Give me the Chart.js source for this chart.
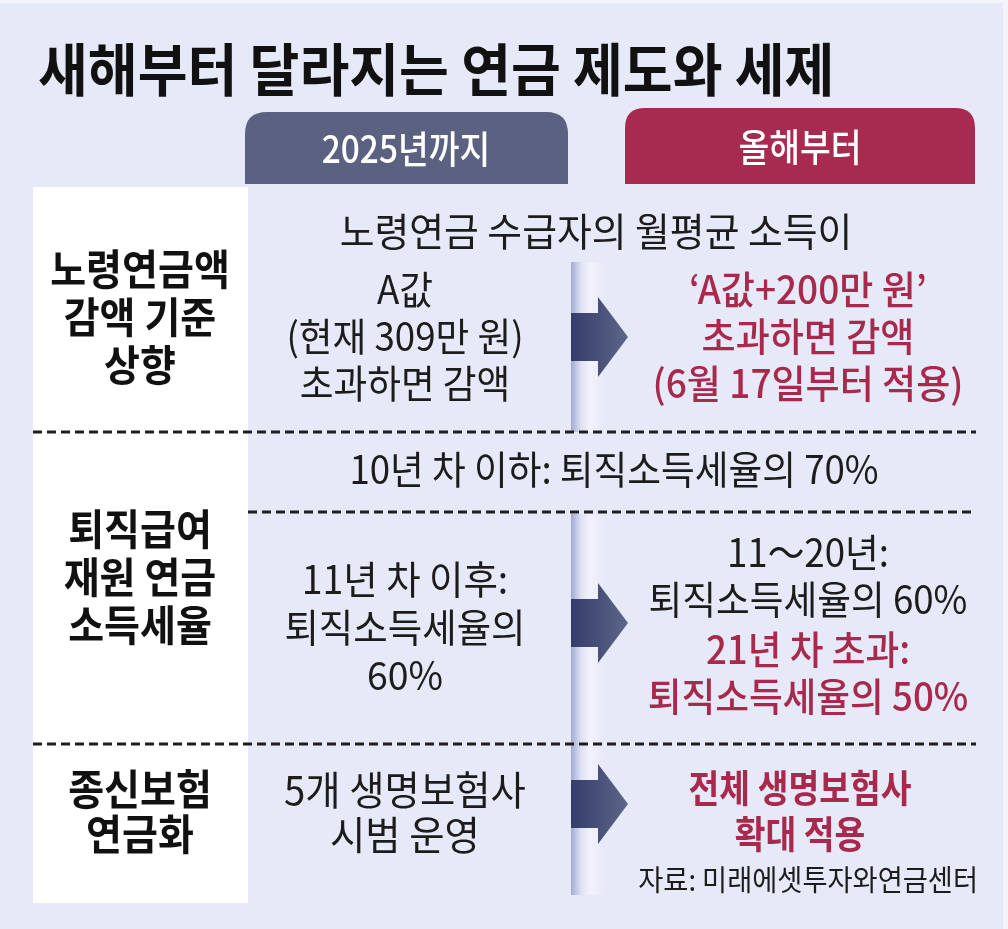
<!DOCTYPE html>
<html><head><meta charset="utf-8">
<script src="https://cdn.jsdelivr.net/npm/chart.js@4.4.1/dist/chart.umd.min.js"></script>
<style>
html,body{margin:0;padding:0;background:#fff;}
#stage{position:relative;width:1008px;height:929px;overflow:hidden;font-family:"Noto Sans CJK KR","Noto Sans",sans-serif;}
#bg{position:absolute;left:0;top:0;}
.ln{position:absolute;white-space:nowrap;line-height:1;}
</style></head>
<body>
<div id="stage"><canvas id="bg" width="1008" height="929"></canvas></div>
<script>
// ---- content ----
const title = '새해부터 달라지는 연금 제도와 세제';
const columnHeaders = ['2025년까지', '올해부터'];
const rowLabels = [['노령연금액','감액 기준','상향'], ['퇴직급여','재원 연금','소득세율'], ['종신보험','연금화']];
const row1Common = '노령연금 수급자의 월평균 소득이';
const row1Before = ['A값','(현재 309만 원)','초과하면 감액'];
const row1After = ['‘A값+200만 원’','초과하면 감액','(6월 17일부터 적용)'];
const row2Common = '10년 차 이하: 퇴직소득세율의 70%';
const row2Before = ['11년 차 이후:','퇴직소득세율의','60%'];
const row2AfterBlack = ['11～20년:','퇴직소득세율의 60%'];
const row2AfterRed = ['21년 차 초과:','퇴직소득세율의 50%'];
const row3Before = ['5개 생명보험사','시범 운영'];
const row3After = ['전체 생명보험사','확대 적용'];
const source = '자료: 미래에셋투자와연금센터';

// ---- style ----
const BG = '#e6e9f7', NAVY = '#5b6281', RED_TAB = '#a62b4e', RED = '#a8294c', INK = '#1c1c1c';

// background frame drawn with Chart.js plugin
const framePlugin = {
  id: 'frame',
  beforeDraw(chart) {
    const c = chart.ctx;
    c.save();
    c.fillStyle = '#f4f5fb'; c.fillRect(0,0,1008,929);
    c.fillStyle = BG; c.fillRect(0,3,1003,926);
    function tab(x0,y0,x1,y1,r,col){
      c.fillStyle = col; c.beginPath();
      c.moveTo(x0,y1); c.lineTo(x0,y0+r); c.quadraticCurveTo(x0,y0,x0+r,y0);
      c.lineTo(x1-r,y0); c.quadraticCurveTo(x1,y0,x1,y0+r); c.lineTo(x1,y1); c.closePath(); c.fill();
    }
    tab(245,112,568,184,22,NAVY);
    tab(625,108,975,184,20,RED_TAB);
    c.fillStyle = '#ffffff'; c.fillRect(33,187,215,716);
    // strips
    function strip(y0,y1){
      const g = c.createLinearGradient(571,0,605,0);
      g.addColorStop(0,'#a3aad3'); g.addColorStop(0.3,'#dfe2f3'); g.addColorStop(0.55,'#f1f2fb'); g.addColorStop(1,BG);
      c.fillStyle = g; c.fillRect(571,y0,34,y1-y0);
    }
    strip(262,432); strip(514,895);
    // arrows
    function arrow(cy){
      const g = c.createLinearGradient(571,0,628,0);
      g.addColorStop(0,'#343c6b'); g.addColorStop(1,'#5e6689');
      c.fillStyle = g; c.beginPath();
      c.moveTo(571,cy-24); c.lineTo(598,cy-24); c.lineTo(598,cy-40); c.lineTo(628,cy);
      c.lineTo(598,cy+40); c.lineTo(598,cy+24); c.lineTo(571,cy+24); c.closePath(); c.fill();
    }
    arrow(337); arrow(623); arrow(804);
    // dashed rules
    c.strokeStyle = '#1e1e1e'; c.lineWidth = 3; c.setLineDash([9,5]);
    function dash(x0,x1,y){ c.beginPath(); c.moveTo(x0,y); c.lineTo(x1,y); c.stroke(); }
    dash(33,976,432); dash(248,976,512); dash(33,976,744);
    c.restore();
  }
};
new Chart(document.getElementById('bg'), {
  type: 'scatter',
  data: { datasets: [] },
  options: { responsive:false, animation:false, events:[],
    layout:{padding:0},
    scales:{ x:{display:false,min:0,max:1008}, y:{display:false,min:0,max:929,reverse:true} },
    plugins:{ legend:{display:false}, tooltip:{enabled:false} } },
  plugins:[framePlugin]
});

// ---- text ----
const stage = document.getElementById('stage');
function addLine(text, x, cy, size, weight, color, sx, align){
  align = align || 'center';
  const d = document.createElement('div');
  d.className = 'ln'; d.textContent = text;
  d.style.fontSize = size+'px'; d.style.fontWeight = weight; d.style.color = color;
  const W = 800;
  d.style.width = W+'px';
  d.style.textAlign = align;
  if (align==='center'){ d.style.left = (x-W/2)+'px'; d.style.transformOrigin = '50% 50%'; }
  else if (align==='left'){ d.style.left = x+'px'; d.style.transformOrigin = '0 50%'; }
  else { d.style.left = (x-W)+'px'; d.style.transformOrigin = '100% 50%'; }
  d.style.top = (cy-0.56*size)+'px';
  d.style.transform = 'scaleX('+sx+')';
  stage.appendChild(d);
}
function block(lines, x, y0, step, size, weight, color, sx){
  lines.forEach((t,i)=>addLine(t,x,y0+i*step,size,weight,color,sx));
}
addLine(title, 38, 70, 57, 700, '#111', 0.95, 'left');
addLine(columnHeaders[0], 406, 149, 38, 500, '#fff', 0.88);
addLine(columnHeaders[1], 800, 147, 38, 500, '#fff', 0.88);

block(rowLabels[0], 140, 270, 48, 42, 700, '#111', 0.93);
block(rowLabels[1], 140, 530, 48, 42, 700, '#111', 0.93);
block(rowLabels[2], 140, 790, 45, 42, 700, '#111', 0.93);

addLine(row1Common, 596, 232, 39, 400, INK, 0.97);
block(row1Before, 405, 290, 47, 39, 400, INK, 0.94);
block(row1After, 808, 290, 47, 39, 500, RED, 0.95);

addLine(row2Common, 614, 470, 39, 400, INK, 0.94);
block(row2Before, 405, 580, 48, 39, 400, INK, 0.96);
block(row2AfterBlack, 808, 553, 47, 39, 400, INK, 0.94);
block(row2AfterRed, 808, 650, 47, 39, 500, RED, 0.94);

block(row3Before, 405, 790, 45, 40, 400, INK, 0.96);
block(row3After, 800, 788, 46, 38, 700, RED, 0.88);
addLine(source, 978, 880, 29, 400, INK, 0.94, 'right');
</script>
</body></html>
